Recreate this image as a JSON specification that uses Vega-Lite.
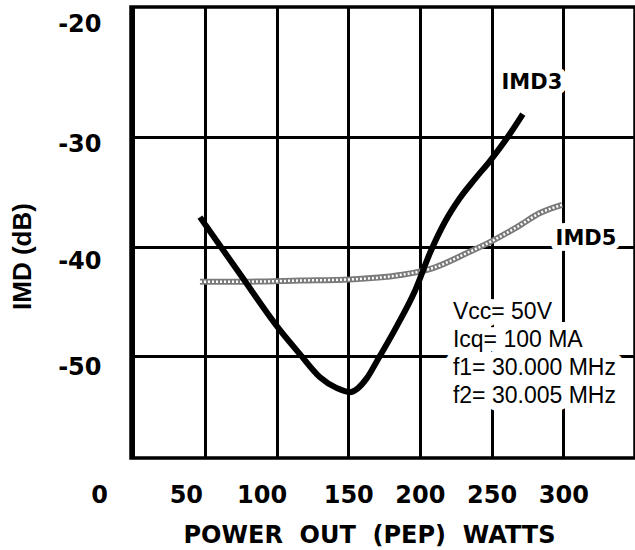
{
  "$schema": "https://vega.github.io/schema/vega-lite/v6.json",
  "width": 504,
  "height": 451,
  "autosize": {"type": "none"},
  "padding": {"left": 131, "top": 7, "right": 0, "bottom": 92},
  "background": "white",
  "config": {
    "view": {"stroke": "black", "strokeWidth": 3.5},
    "axis": {"domain": false, "ticks": false, "grid": true, "gridColor": "black", "gridWidth": 3, "labelColor": "black", "titleColor": "black"}
  },
  "datasets": {
    "curves": [
      {"series": "IMD3", "power": 46.6, "imd": -37.31},
      {"series": "IMD3", "power": 74.5, "imd": -42.51},
      {"series": "IMD3", "power": 102.4, "imd": -47.63},
      {"series": "IMD3", "power": 116.3, "imd": -49.82},
      {"series": "IMD3", "power": 130.3, "imd": -51.92},
      {"series": "IMD3", "power": 142.1, "imd": -52.92},
      {"series": "IMD3", "power": 151.2, "imd": -53.29},
      {"series": "IMD3", "power": 163.0, "imd": -52.01},
      {"series": "IMD3", "power": 170.0, "imd": -50.46},
      {"series": "IMD3", "power": 183.9, "imd": -47.26},
      {"series": "IMD3", "power": 196.5, "imd": -44.06},
      {"series": "IMD3", "power": 207.0, "imd": -40.59},
      {"series": "IMD3", "power": 217.4, "imd": -37.76},
      {"series": "IMD3", "power": 227.9, "imd": -35.57},
      {"series": "IMD3", "power": 238.3, "imd": -33.84},
      {"series": "IMD3", "power": 248.8, "imd": -32.19},
      {"series": "IMD3", "power": 259.3, "imd": -30.37},
      {"series": "IMD3", "power": 271.8, "imd": -27.9},
      {"series": "IMD5", "power": 46.6, "imd": -43.2},
      {"series": "IMD5", "power": 81.5, "imd": -43.2},
      {"series": "IMD5", "power": 116.4, "imd": -43.1},
      {"series": "IMD5", "power": 151.2, "imd": -43.0},
      {"series": "IMD5", "power": 186.1, "imd": -42.6},
      {"series": "IMD5", "power": 209.1, "imd": -41.96},
      {"series": "IMD5", "power": 232.8, "imd": -40.59},
      {"series": "IMD5", "power": 248.8, "imd": -39.59},
      {"series": "IMD5", "power": 267.7, "imd": -38.22},
      {"series": "IMD5", "power": 283.7, "imd": -36.94},
      {"series": "IMD5", "power": 299.1, "imd": -36.2}
    ],
    "labels": [
      {"label": "IMD3", "power": 278.1, "imd": -25.07},
      {"label": "IMD5", "power": 315.8, "imd": -39.3}
    ],
    "note": [
      {"label": ["Vcc= 50V", "Icq= 100 MA", "f1= 30.000 MHz", "f2= 30.005 MHz"], "power": 223.0, "imd": -44.98}
    ]
  },
  "encoding": {
    "x": {
      "field": "power", "type": "quantitative",
      "scale": {"domain": [-1.5, 350], "nice": false, "zero": false},
      "axis": {
        "title": "POWER\u00a0\u00a0OUT\u00a0\u00a0(PEP)\u00a0\u00a0WATTS",
        "values": [0, 50, 100, 150, 200, 250, 300],
        "labelFont": "DejaVu Sans", "labelFontWeight": "bold", "labelFontSize": 24,
        "labelPadding": 25, "labelBaseline": "top", "labelAngle": 0, "labelFlush": false, "labelOverlap": false,
        "labelOffset": {"condition": [{"test": "datum.value == 0", "value": -34}, {"test": "datum.value == 50", "value": -19}, {"test": "datum.value == 100", "value": -15}], "value": 0},
        "titleFont": "DejaVu Sans", "titleFontWeight": "bold", "titleFontSize": 24,
        "titleX": 238, "titleY": 84, "titleAlign": "center", "titleBaseline": "alphabetic"
      }
    },
    "y": {
      "field": "imd", "type": "quantitative",
      "scale": {"domain": [-59.3, -18.13], "nice": false, "zero": false},
      "axis": {
        "title": "IMD (dB)",
        "values": [-20, -30, -40, -50],
        "labelExpr": "'' + datum.value",
        "labelFont": "DejaVu Sans", "labelFontWeight": "bold", "labelFontSize": 24,
        "labelPadding": 30, "labelOverlap": false,
        "labelOffset": {"condition": [{"test": "datum.value == -20", "value": -3}, {"test": "datum.value == -30", "value": 7}, {"test": "datum.value == -40", "value": 15}, {"test": "datum.value == -50", "value": 11}], "value": 0},
        "gridOpacity": {"condition": {"test": "datum.value == -20", "value": 0}, "value": 1},
        "titleFont": "Liberation Sans", "titleFontWeight": "bold", "titleFontSize": 26,
        "titleX": -109, "titleY": 249, "titleAngle": -90, "titleAlign": "center", "titleBaseline": "middle"
      }
    }
  },
  "layer": [
    {
      "data": {"name": "curves"},
      "transform": [{"filter": "datum.series == 'IMD5'"}],
      "mark": {"type": "line", "color": "#7a7a7a", "strokeWidth": 6, "interpolate": "monotone"}
    },
    {
      "data": {"name": "curves"},
      "transform": [{"filter": "datum.series == 'IMD5'"}],
      "mark": {"type": "line", "color": "white", "strokeWidth": 2.5, "strokeDash": [2, 2], "interpolate": "monotone"}
    },
    {
      "data": {"name": "curves"},
      "transform": [{"filter": "datum.series == 'IMD3'"}],
      "mark": {"type": "line", "color": "black", "strokeWidth": 6, "interpolate": "monotone"}
    },
    {
      "data": {"name": "labels"},
      "mark": {"type": "text", "font": "DejaVu Sans", "fontWeight": "bold", "fontSize": 21, "align": "center", "baseline": "middle", "fill": "white", "stroke": "white", "strokeWidth": 12, "strokeJoin": "round"},
      "encoding": {"text": {"field": "label"}}
    },
    {
      "data": {"name": "labels"},
      "mark": {"type": "text", "font": "DejaVu Sans", "fontWeight": "bold", "fontSize": 21, "align": "center", "baseline": "middle", "fill": "black"},
      "encoding": {"text": {"field": "label"}}
    },
    {
      "data": {"name": "note"},
      "mark": {"type": "text", "font": "Liberation Sans", "fontSize": 23, "align": "left", "baseline": "top", "lineHeight": 28, "fill": "white", "stroke": "white", "strokeWidth": 16, "strokeJoin": "round"},
      "encoding": {"text": {"field": "label"}}
    },
    {
      "data": {"name": "note"},
      "mark": {"type": "text", "font": "Liberation Sans", "fontSize": 23, "align": "left", "baseline": "top", "lineHeight": 28, "fill": "black"},
      "encoding": {"text": {"field": "label"}}
    }
  ]
}
